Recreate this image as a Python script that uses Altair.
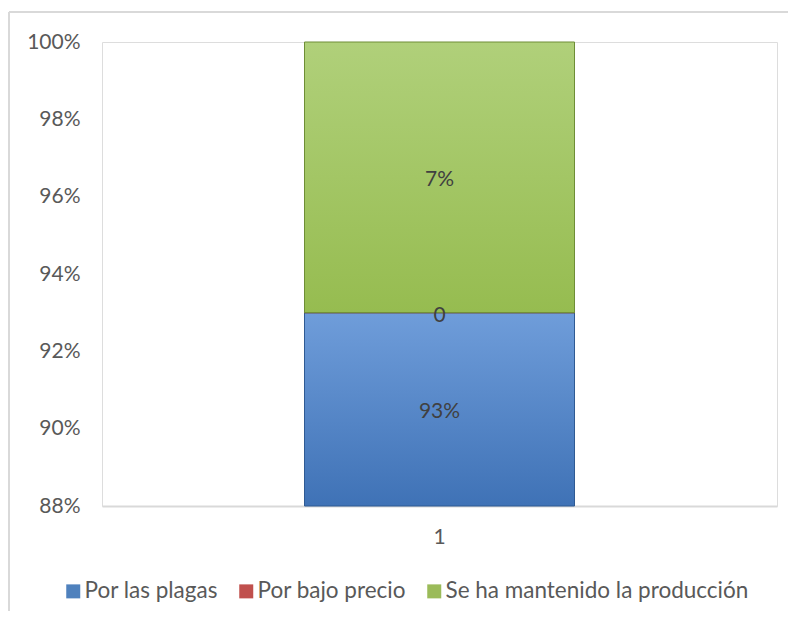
import altair as alt
import pandas as pd

categories = ["1", "1", "1"]
series = ["Por las plagas", "Por bajo precio", "Se ha mantenido la producción"]
values = [0.93, 0.0, 0.07]
labels = ["93%", "0", "7%"]
order = [0, 1, 2]
colors = ["#4F81BD", "#C0504D", "#9BBB59"]
grad_top = ["#6F9DDA", "#D06A66", "#B0D07A"]
grad_bottom = ["#3F72B6", "#A83E3B", "#96BC50"]
edge = ["#2F5A93", "#8C2F2C", "#6E8E36"]
y_ticks = [0.88, 0.90, 0.92, 0.94, 0.96, 0.98, 1.00]
y_domain = [0.88, 1.0]

FONT = "Lato"
FS = 21
LFS = 22.5
TXT = "#595959"

df = pd.DataFrame({
    "cat": categories,
    "serie": series,
    "valor": values,
    "etiqueta": labels,
    "orden": order,
})

yscale = alt.Scale(domain=y_domain, clamp=True, nice=False, zero=False)
xscale = alt.Scale(paddingInner=0.6, paddingOuter=0.3)

base = alt.Chart(df).transform_stack(
    stack="valor", as_=["y0", "y1"], groupby=["cat"],
    sort=[alt.SortField("orden", order="ascending")],
).transform_calculate(
    mid="(max(datum.y0, 0.88) + min(datum.y1, 1.0)) / 2"
)

bars = base.mark_bar().encode(
    x=alt.X("cat:N", scale=xscale, axis=alt.Axis(
        title=None, labelAngle=0, ticks=False, domain=True,
        domainColor="#D9D9D9", domainWidth=2, labelFontSize=FS,
        labelFont=FONT, labelColor=TXT, labelPadding=20)),
    y=alt.Y("y0:Q", scale=yscale, axis=alt.Axis(
        title=None, format=".0%", values=y_ticks, ticks=False,
        domain=False, grid=False, labelFontSize=FS, labelFont=FONT,
        labelColor=TXT, labelPadding=22)),
    y2="y1:Q",
    color=alt.Color("serie:N", sort=series,
                    scale=alt.Scale(domain=series, range=colors),
                    legend=alt.Legend(
                        title=None, orient="none", direction="horizontal",
                        legendX=-40, legendY=538,
                        symbolType="square", symbolSize=196,
                        symbolStrokeWidth=0, labelFontSize=LFS,
                        labelFont=FONT, labelColor=TXT, columnPadding=17,
                        labelOffset=0, labelLimit=400)),
)

grad_layers = []
for s, top, bot, ed in zip(series, grad_top, grad_bottom, edge):
    grad_layers.append(
        base.transform_filter(alt.datum.serie == s).mark_bar(
            color=alt.Gradient(
                gradient="linear",
                stops=[alt.GradientStop(color=top, offset=0),
                       alt.GradientStop(color=bot, offset=1)],
                x1=0, x2=0, y1=0, y2=1),
            stroke=ed, strokeWidth=1,
        ).encode(
            x=alt.X("cat:N", scale=xscale),
            y=alt.Y("y0:Q", scale=yscale),
            y2="y1:Q",
        )
    )

text = base.mark_text(font=FONT, fontSize=FS, color="#404040", dy=3).encode(
    x=alt.X("cat:N", scale=xscale),
    y=alt.Y("mid:Q", scale=yscale),
    text="etiqueta:N",
)

frame_top = alt.Chart(df).mark_rule(color="#D9D9D9", strokeWidth=1.5).encode(
    x=alt.value(-93), x2=alt.value(700), y=alt.value(-30))
frame_left = alt.Chart(df).mark_rule(color="#D9D9D9", strokeWidth=1.5).encode(
    x=alt.value(-93), y=alt.value(-30), y2=alt.value(600))

chart = alt.layer(bars, *grad_layers, text, frame_top, frame_left).properties(
    width=675, height=464,
    padding={"left": 94, "top": 34, "right": 11, "bottom": 105},
    autosize=alt.AutoSizeParams(type="none"),
).configure_view(stroke=None).configure(background="white")

chart.save("out.html", embed_options={"renderer": "svg", "actions": False})
